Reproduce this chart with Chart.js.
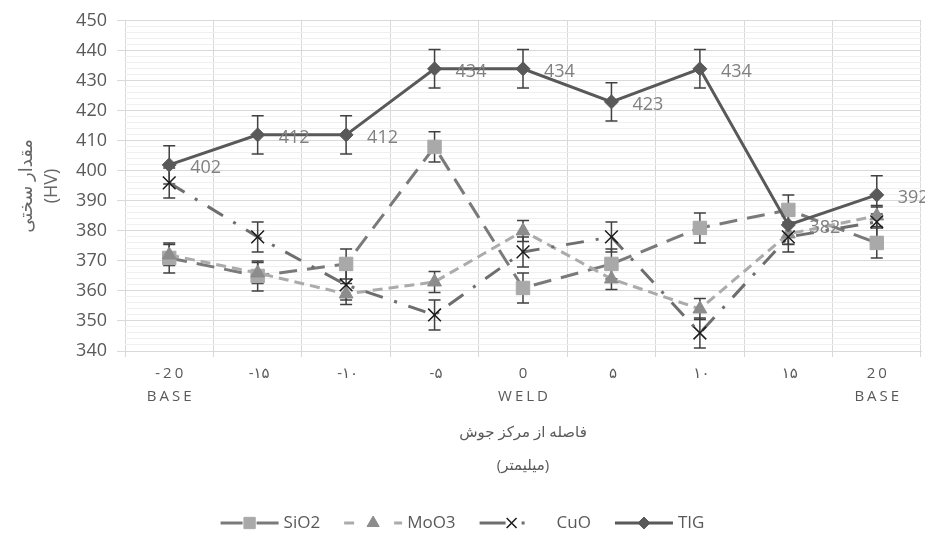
<!DOCTYPE html>
<html>
<head>
<meta charset="utf-8">
<script src="https://cdn.jsdelivr.net/npm/chart.js@4.4.1/dist/chart.umd.min.js"></script>
<style>
html,body{margin:0;padding:0;background:#fff;}
#wrap{width:925px;height:538px;position:relative;}
</style>
</head>
<body>
<div id="wrap"><canvas id="c" width="925" height="538"></canvas></div>
<script>
// ---- data ----
const categories = [["-20","BASE"],"-۱۵","-۱۰","-۵",["0","WELD"],"۵","۱۰","۱۵",["20","BASE"]];
const seriesNames = ["SiO2","MoO3","CuO","TIG"];
const sio2 = [371, 365, 369, 408, 361, 369, 381, 387, 376];
const moo3 = [372, 366, 359, 363, 380, 364, 354, 379, 385];
const cuo  = [396, 378, 362, 352, 373, 378, 346, 378, 383];
const tig  = [402, 412, 412, 434, 434, 423, 434, 382, 392];
const sio2Err = [5, 5, 5, 5, 5, 5, 5, 5, 5];
const moo3Err = [3.5, 3.5, 3.5, 3.5, 3.5, 3.5, 3.5, 3.5, 3.5];
const cuoErr  = [5, 5, 5, 5, 5, 5, 5, 5, 5];
const tigErr  = [6.4, 6.4, 6.4, 6.4, 6.4, 6.4, 6.4, 6.4, 6.4];
const yTitle = ["مقدار سختی", "(HV)"];
const xTitle = ["فاصله از مرکز جوش", "(میلیمتر)"];
const yMin = 340, yMax = 450, yMajor = 10, yMinor = 2;

const FONT = "'Open Sans', 'DejaVu Sans', sans-serif";

const errorBars = {
  id: 'errorBars',
  beforeDatasetsDraw(chart) {
    const ctx = chart.ctx, ys = chart.scales.y;
    chart.data.datasets.forEach((ds, di) => {
      if (!ds.errors) return;
      const meta = chart.getDatasetMeta(di);
      ctx.save();
      ctx.strokeStyle = '#404040';
      ctx.lineWidth = 1.5;
      meta.data.forEach((pt, i) => {
        const v = ds.data[i], e = ds.errors[i];
        const y1 = ys.getPixelForValue(v + e), y2 = ys.getPixelForValue(v - e);
        ctx.beginPath();
        ctx.moveTo(pt.x, y1); ctx.lineTo(pt.x, y2);
        ctx.moveTo(pt.x - 6, y1); ctx.lineTo(pt.x + 6, y1);
        ctx.moveTo(pt.x - 6, y2); ctx.lineTo(pt.x + 6, y2);
        ctx.stroke();
      });
      ctx.restore();
    });
  }
};

const dataLabels = {
  id: 'dataLabels',
  afterDatasetsDraw(chart) {
    const ctx = chart.ctx;
    chart.data.datasets.forEach((ds, di) => {
      if (!ds.showLabels) return;
      const meta = chart.getDatasetMeta(di);
      ctx.save();
      ctx.fillStyle = '#808080';
      ctx.font = "18px " + FONT;
      ctx.textAlign = 'left';
      ctx.textBaseline = 'middle';
      meta.data.forEach((pt, i) => {
        ctx.fillText(String(ds.data[i]), pt.x + 21, pt.y + 3);
      });
      ctx.restore();
    });
  }
};

const xLabels = {
  id: 'xLabels',
  afterDraw(chart) {
    const ctx = chart.ctx, xs = chart.scales.x;
    ctx.save();
    ctx.fillStyle = '#595959';
    ctx.font = "15px " + FONT;
    ctx.textAlign = 'center';
    ctx.textBaseline = 'middle';
    try { ctx.letterSpacing = '3px'; } catch (e) {}
    categories.forEach((lab, i) => {
      const x = xs.getPixelForTick(i) + 1.5;
      const lines = Array.isArray(lab) ? lab : [lab];
      lines.forEach((t, j) => ctx.fillText(t, x, xs.top + 23 + j * 23));
    });
    ctx.restore();
  }
};

const customLegend = {
  id: 'customLegend',
  afterDraw(chart) {
    const ctx = chart.ctx;
    ctx.save();
    ctx.font = "17px " + FONT;
    const seg = 58, gap = 5, itemGap = 24;
    const items = chart.data.datasets.map(ds => ({ds, w: seg + gap + (ds.legendTextGap || 0) + ctx.measureText(ds.label).width}));
    const total = items.reduce((s, it) => s + it.w, 0) + itemGap * (items.length - 1);
    let x = (chart.width - total) / 2;
    const y = 523;
    items.forEach(it => {
      const ds = it.ds;
      ctx.save();
      ctx.strokeStyle = ds.borderColor;
      ctx.lineWidth = ds.borderWidth;
      ctx.setLineDash(ds.legendDash || []);
      ctx.beginPath(); ctx.moveTo(x, y); ctx.lineTo(x + seg, y); ctx.stroke();
      ctx.restore();
      ctx.save();
      ctx.fillStyle = ds.pointBackgroundColor; ctx.strokeStyle = ds.pointBorderColor;
      ctx.lineWidth = ds.pointBorderWidth;
      Chart.helpers.drawPoint(ctx, {pointStyle: ds.pointStyle, radius: ds.legendRadius, rotation: 0, borderWidth: ds.pointBorderWidth}, x + (ds.legendMarkerX || seg / 2), y);
      ctx.restore();
      ctx.fillStyle = '#595959';
      ctx.textAlign = 'left'; ctx.textBaseline = 'middle';
      ctx.fillText(ds.label, x + seg + gap + (ds.legendTextGap || 0), y);
      x += it.w + itemGap;
    });
    ctx.restore();
  }
};

new Chart(document.getElementById('c'), {
  type: 'line',
  data: {
    labels: categories,
    datasets: [
      {label: seriesNames[0], data: sio2, errors: sio2Err, borderColor: '#7a7a7a', borderWidth: 3,
       borderDash: [18, 10], legendDash: [22, 14, 22], legendRadius: 8, pointStyle: 'rect', pointRadius: 9.5,
       pointBackgroundColor: '#a9a9a9', pointBorderColor: '#a9a9a9', pointBorderWidth: 1, order: 4},
      {label: seriesNames[1], data: moo3, errors: moo3Err, borderColor: '#ababab', borderWidth: 3,
       borderDash: [10, 6], legendDash: [10, 40, 8], legendRadius: 7, pointStyle: 'triangle', pointRadius: 8,
       pointBackgroundColor: '#8c8c8c', pointBorderColor: '#8c8c8c', pointBorderWidth: 1, order: 3},
      {label: seriesNames[2], data: cuo, errors: cuoErr, borderColor: '#6e6e6e', borderWidth: 3,
       borderDash: [18, 12, 3, 12], legendDash: [26, 16, 3, 20], legendRadius: 7, legendMarkerX: 32, legendTextGap: 14,
       pointStyle: 'crossRot', pointRadius: 9,
       pointBackgroundColor: '#1a1a1a', pointBorderColor: '#1a1a1a', pointBorderWidth: 1.5, order: 2},
      {label: seriesNames[3], data: tig, errors: tigErr, showLabels: true, borderColor: '#595959', borderWidth: 3,
       borderDash: [], legendDash: [], legendRadius: 6, pointStyle: 'rectRot', pointRadius: 7,
       pointBackgroundColor: '#595959', pointBorderColor: '#595959', pointBorderWidth: 1, order: 1}
    ]
  },
  options: {
    responsive: false,
    animation: false,
    layout: {autoPadding: false, padding: {left: 0, right: 4, top: 4, bottom: 50}},
    plugins: {legend: {display: false}, tooltip: {enabled: false}},
    elements: {line: {tension: 0}},
    scales: {
      x: {
        offset: true,
        grid: {offset: true, color: '#d9d9d9', tickLength: 6, tickColor: '#d9d9d9'},
        border: {color: '#d9d9d9'},
        ticks: {display: false},
        title: {display: true, text: xTitle, color: '#595959', font: {family: FONT, size: 15, lineHeight: 2.2}, padding: {top: 0, bottom: 6}},
        afterFit(s) { s.height = 137; s.paddingLeft = 0; s.paddingRight = 0; }
      },
      y: {
        min: yMin, max: yMax,
        grid: {
          color: c => (c.tick && c.tick.value % yMajor === 0) ? '#d9d9d9' : '#f0f0f0',
          tickColor: c => (c.tick && c.tick.value % yMajor === 0) ? '#d9d9d9' : 'rgba(0,0,0,0)',
          tickLength: 8
        },
        border: {display: false},
        ticks: {stepSize: yMinor, autoSkip: false, color: '#595959', padding: 10,
          font: {family: FONT, size: 18},
          callback: v => (v % yMajor === 0) ? String(v) : ''},
        title: {display: true, text: yTitle, color: '#666666', font: {family: FONT, size: 18, lineHeight: 1.39}, padding: {top: 14, bottom: 0}},
        afterFit(s) { s.width = 125; }
      }
    }
  },
  plugins: [errorBars, dataLabels, xLabels, customLegend]
});
</script>
</body>
</html>
